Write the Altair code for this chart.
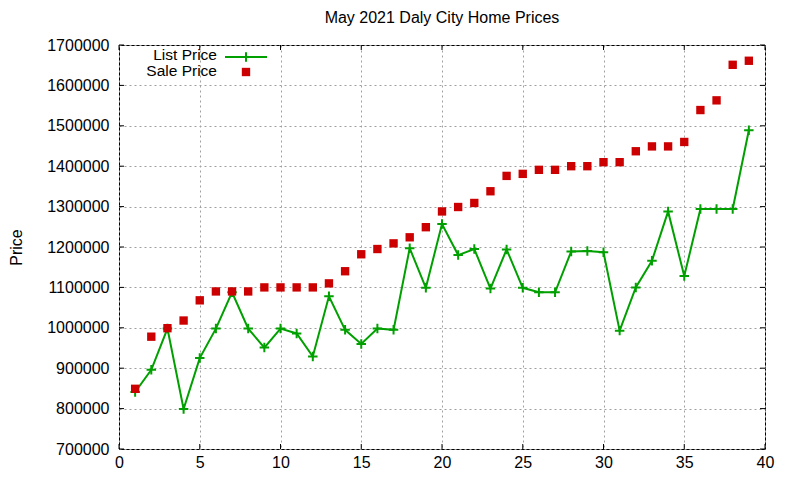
import pandas as pd
import altair as alt

FONT = "Liberation Sans"
GREEN = "#00a000"
RED = "#cc0000"

# data
lot = list(range(1, 40))
list_price = [
    841000, 896000, 998000, 799000, 925000, 998000, 1088000, 998000, 951000, 998000,
    986000, 929000, 1078000, 995000, 960000, 998000, 995000, 1197000, 1099000, 1257000,
    1180000, 1195000, 1097000, 1194000, 1099000, 1088000, 1088000, 1189000, 1190000, 1187000,
    993000, 1100000, 1166000, 1288000, 1128000, 1294000, 1294000, 1294000, 1489000,
]
sale_price = [
    849000, 978000, 999000, 1018000, 1068000, 1090000, 1090000, 1090000, 1100000, 1100000,
    1100000, 1100000, 1110000, 1140000, 1182000, 1195000, 1209000, 1224000, 1249000, 1288000,
    1299000, 1309000, 1338000, 1376000, 1381000, 1391000, 1391000, 1400000, 1400000, 1410000,
    1410000, 1437000, 1449000, 1449000, 1460000, 1539000, 1563000, 1651000, 1661000,
]
x_ticks = [0, 5, 10, 15, 20, 25, 30, 35, 40]
y_ticks = [700000, 800000, 900000, 1000000, 1100000, 1200000, 1300000,
           1400000, 1500000, 1600000, 1700000]

W, H = 646, 404
TICK = 5
PLUS = "M-1,0H1M0,-1V1"

df = pd.DataFrame({"lot": lot, "list": list_price, "sale": sale_price})
xs = alt.Scale(domain=[0, 40], nice=False, zero=False)
ys = alt.Scale(domain=[700000, 1700000], nice=False, zero=False)

base = alt.Chart(df)

line = base.mark_line(color=GREEN, strokeWidth=2).encode(
    x=alt.X("lot:Q", scale=xs, axis=alt.Axis(values=x_ticks, title=None, labelPadding=5)),
    y=alt.Y("list:Q", scale=ys, title="Price",
            axis=alt.Axis(values=y_ticks, format="d", labelPadding=10, titlePadding=22)),
)
plus = base.mark_point(shape=PLUS, size=90, filled=False, color=GREEN,
                       strokeWidth=2, opacity=1).encode(
    x=alt.X("lot:Q", scale=xs), y=alt.Y("list:Q", scale=ys))
squares = base.mark_square(size=70, color=RED, opacity=1).encode(
    x=alt.X("lot:Q", scale=xs), y=alt.Y("sale:Q", scale=ys))

# inward ticks on all four sides, gnuplot style
xt = alt.Chart(pd.DataFrame({"t": x_ticks}))
yt = alt.Chart(pd.DataFrame({"t": y_ticks}))
tx = alt.X("t:Q", scale=xs)
ty = alt.Y("t:Q", scale=ys)
ticks = [
    xt.mark_rule(color="black").encode(x=tx, y=alt.value(H - TICK), y2=alt.value(H)),
    xt.mark_rule(color="black").encode(x=tx, y=alt.value(0), y2=alt.value(TICK)),
    yt.mark_rule(color="black").encode(y=ty, x=alt.value(0), x2=alt.value(TICK)),
    yt.mark_rule(color="black").encode(y=ty, x=alt.value(W - TICK), x2=alt.value(W)),
]

# key in the upper left corner
one = pd.DataFrame({"k": [0]})
key = [
    alt.Chart(pd.DataFrame({"label": ["List Price"]})).mark_text(
        align="right", baseline="middle", font=FONT, fontSize=15.5, color="black"
    ).encode(text="label:N", x=alt.value(98), y=alt.value(10)),
    alt.Chart(pd.DataFrame({"label": ["Sale Price"]})).mark_text(
        align="right", baseline="middle", font=FONT, fontSize=15.5, color="black"
    ).encode(text="label:N", x=alt.value(98), y=alt.value(26)),
    alt.Chart(one).mark_rule(color=GREEN, strokeWidth=2).encode(
        x=alt.value(106), x2=alt.value(148), y=alt.value(12)),
    alt.Chart(one).mark_point(shape=PLUS, size=90, filled=False, color=GREEN,
                              strokeWidth=2, opacity=1).encode(
        x=alt.value(127), y=alt.value(12)),
    alt.Chart(one).mark_square(size=70, color=RED, opacity=1).encode(
        x=alt.value(127), y=alt.value(27)),
]

chart = alt.layer(line, plus, squares, *ticks, *key).properties(
    width=W,
    height=H,
    title=alt.TitleParams("May 2021 Daly City Home Prices", font=FONT, fontSize=16,
                          fontWeight="normal", color="black", anchor="middle", offset=11),
    autosize=alt.AutoSizeParams(type="none"),
    padding={"left": 111, "top": 37, "right": 26, "bottom": 24},
).configure_view(
    stroke="black", strokeWidth=1
).configure_axis(
    domain=False, ticks=False, grid=True, gridColor="#a0a0a0", gridDash=[2, 3],
    gridWidth=1, labelFlush=False, labelFont=FONT, labelFontSize=16, labelColor="black",
    titleFont=FONT, titleFontSize=16, titleFontWeight="normal", titleColor="black",
)

chart.save("out.html", embed_options={"renderer": "svg", "actions": False})
